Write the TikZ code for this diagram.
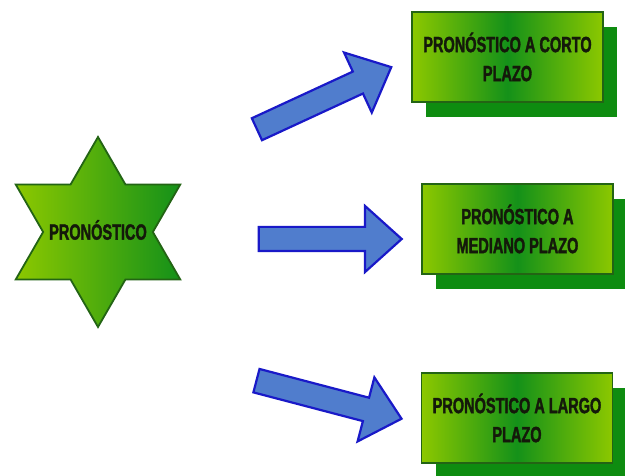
\documentclass[tikz,border=0pt]{standalone}
\usepackage{fontspec}
\newfontfamily\agency[FakeStretch=0.66,FakeBold=1.6]{Liberation Sans}
\usetikzlibrary{shapes.geometric,shapes.arrows,shadows}
\definecolor{lightg}{RGB}{140,200,0}
\definecolor{darkg}{RGB}{20,145,25}
\definecolor{edgeg}{RGB}{35,100,20}
\definecolor{shadowg}{RGB}{14,140,16}
\definecolor{arrowfill}{RGB}{80,125,205}
\definecolor{arrowedge}{RGB}{25,25,200}
\definecolor{txt}{RGB}{20,25,10}
\begin{document}
\begin{tikzpicture}[x=1pt,y=-1pt,
 lbl/.style={font=\agency\bfseries\fontsize{22}{29}\selectfont, text=txt, align=center},
 box/.style={rectangle, draw=edgeg, line width=1.8pt, minimum width=191pt, minimum height=90pt,
   left color=lightg, right color=lightg, middle color=darkg,
   drop shadow={shadow xshift=14pt, shadow yshift=-15pt, fill=shadowg, opacity=1}, lbl},
 barrow/.style={single arrow, draw=arrowedge, fill=arrowfill, line width=2.2pt,
   minimum width=66pt, single arrow head extend=21pt, single arrow tip angle=84,
   inner xsep=0pt, inner ysep=11pt, text height=0pt, text depth=0pt},
]
\useasboundingbox (0,0) rectangle (625,476);
% star
\node[star, star points=6, star point ratio=1.732, minimum size=190pt, inner sep=0pt,
  draw=edgeg, line width=1.8pt, left color=lightg, right color=darkg] (star) at (98,232) {};
\node[lbl] (startxt) at (98,230) {PRONÓSTICO};
% boxes
\node[box] (b1) at (507.5,57) {PRONÓSTICO A CORTO\\PLAZO};
\node[box] (b2) at (517.5,229) {PRONÓSTICO A\\MEDIANO PLAZO};
\node[box] (b3) at (517,418) {PRONÓSTICO A LARGO\\PLAZO};
% arrows
\node[barrow, minimum height=148pt, rotate=24.8] (a1) at (318,101) {};
\node[barrow, minimum height=143pt] (a2) at (323.5,239) {};
\node[barrow, minimum height=150pt, rotate=-14.7] (a3) at (322.5,398) {};
\end{tikzpicture}
\end{document}
